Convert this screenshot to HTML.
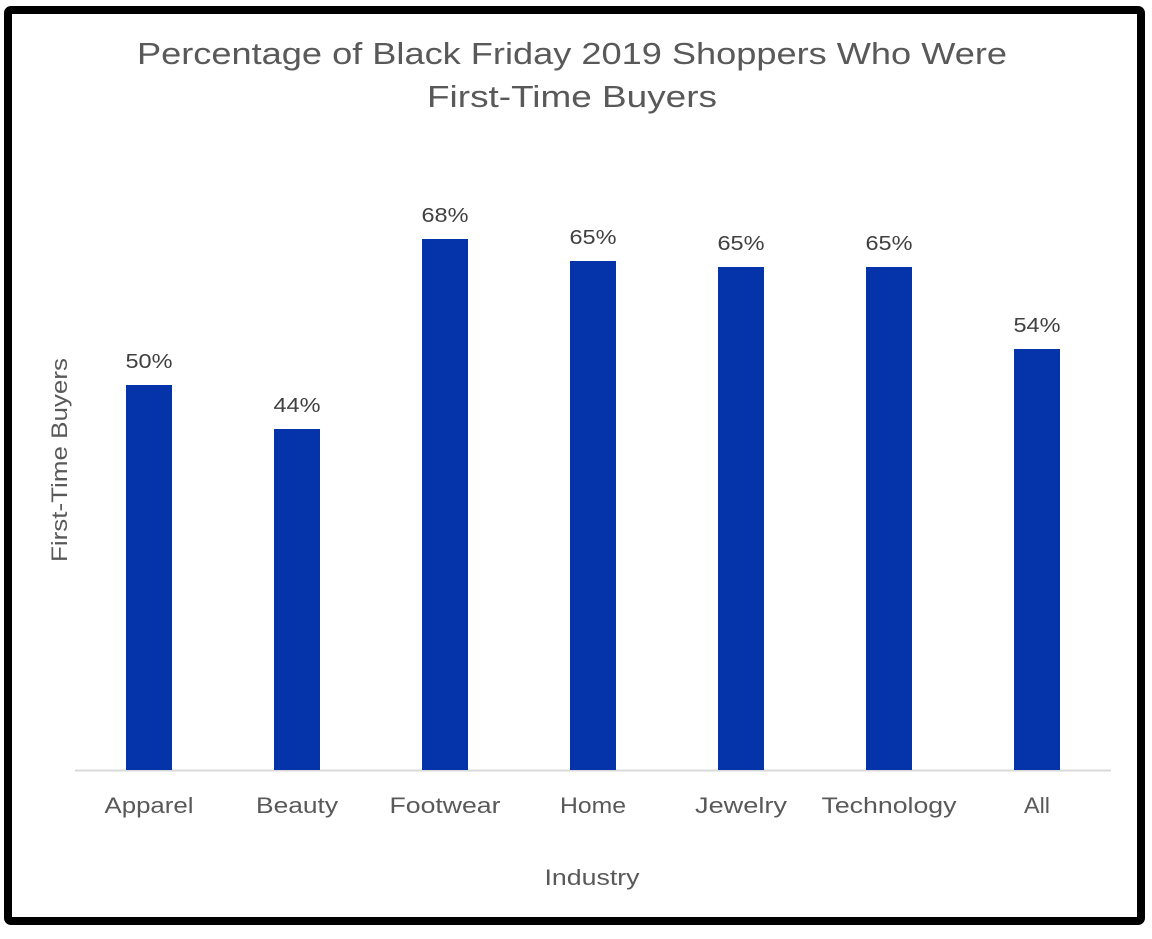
<!DOCTYPE html>
<html><head><meta charset="utf-8"><style>
body{margin:0;background:#fff;width:1152px;height:934px;overflow:hidden}
</style></head><body>
<svg width="1152" height="934" xmlns="http://www.w3.org/2000/svg" font-family="Liberation Sans, sans-serif">
<rect x="0" y="0" width="1152" height="934" fill="#fff"/>
<rect x="8" y="10" width="1133" height="911" rx="3" fill="none" stroke="#000" stroke-width="8"/>
<g fill="#595959" font-size="31" text-anchor="middle">
<text x="572" y="64" textLength="870" lengthAdjust="spacingAndGlyphs">Percentage of Black Friday 2019 Shoppers Who Were</text>
<text x="572" y="107" textLength="290" lengthAdjust="spacingAndGlyphs">First-Time Buyers</text>
</g>
<line x1="75" y1="770.5" x2="1111" y2="770.5" stroke="#d9d9d9" stroke-width="2"/>
<g fill="#0433AA">
<rect x="126" y="385" width="46" height="385"/>
<rect x="274" y="429" width="46" height="341"/>
<rect x="422" y="239" width="46" height="531"/>
<rect x="570" y="261" width="46" height="509"/>
<rect x="718" y="267" width="46" height="503"/>
<rect x="866" y="267" width="46" height="503"/>
<rect x="1014" y="349" width="46" height="421"/>
</g>
<g fill="#404040" font-size="20" text-anchor="middle">
<text x="149" y="368" textLength="47" lengthAdjust="spacingAndGlyphs">50%</text>
<text x="297" y="412" textLength="47" lengthAdjust="spacingAndGlyphs">44%</text>
<text x="445" y="222" textLength="47" lengthAdjust="spacingAndGlyphs">68%</text>
<text x="593" y="244" textLength="47" lengthAdjust="spacingAndGlyphs">65%</text>
<text x="741" y="250" textLength="47" lengthAdjust="spacingAndGlyphs">65%</text>
<text x="889" y="250" textLength="47" lengthAdjust="spacingAndGlyphs">65%</text>
<text x="1037" y="332" textLength="47" lengthAdjust="spacingAndGlyphs">54%</text>
</g>
<g fill="#595959" font-size="22" text-anchor="middle">
<text x="149" y="813" textLength="89" lengthAdjust="spacingAndGlyphs">Apparel</text>
<text x="297" y="813" textLength="82" lengthAdjust="spacingAndGlyphs">Beauty</text>
<text x="445" y="813" textLength="111" lengthAdjust="spacingAndGlyphs">Footwear</text>
<text x="593" y="813" textLength="66" lengthAdjust="spacingAndGlyphs">Home</text>
<text x="741" y="813" textLength="92" lengthAdjust="spacingAndGlyphs">Jewelry</text>
<text x="889" y="813" textLength="135" lengthAdjust="spacingAndGlyphs">Technology</text>
<text x="1037" y="813" textLength="26" lengthAdjust="spacingAndGlyphs">All</text>
<text x="592" y="885" textLength="95" lengthAdjust="spacingAndGlyphs">Industry</text>
<text transform="translate(67,460) rotate(-90)" textLength="204" lengthAdjust="spacingAndGlyphs">First-Time Buyers</text>
</g>
</svg>
</body></html>
